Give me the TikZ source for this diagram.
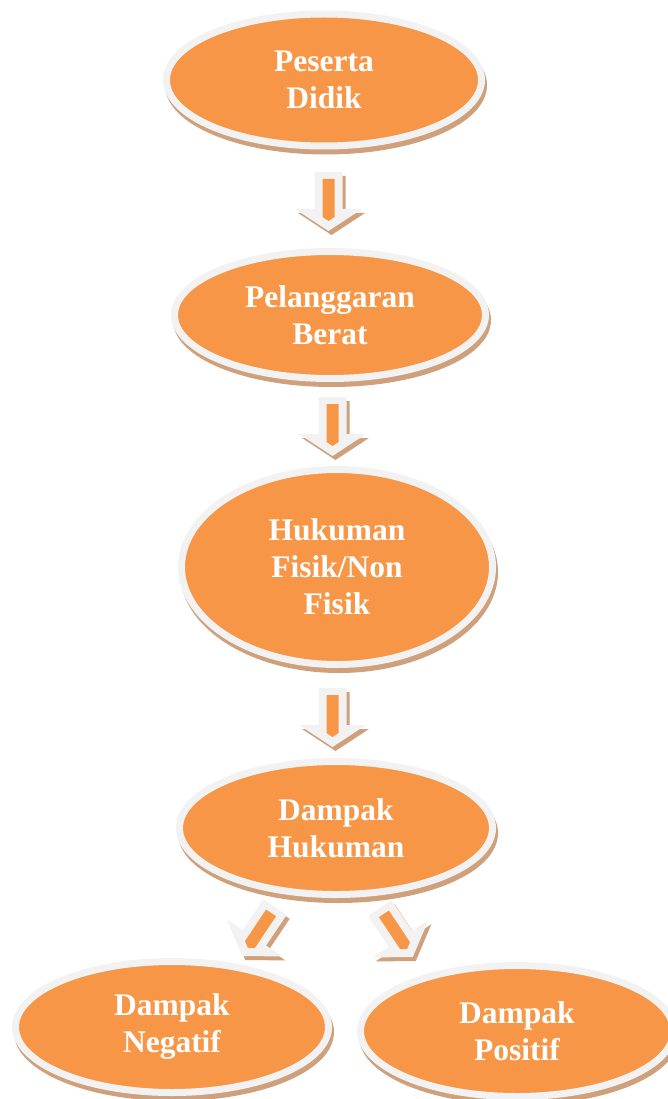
\documentclass[tikz,border=0pt]{standalone}
\usepackage{fontspec}
\setmainfont{Liberation Serif}
\usetikzlibrary{shapes.geometric,calc}
\definecolor{ringgray}{HTML}{F2F2F2}
\definecolor{boxorange}{HTML}{F79646}
\definecolor{shadowtan}{HTML}{CFA07C}
\tikzset{
  bubble/.style={ellipse, draw=ringgray, line width=7pt, fill=boxorange,
    inner sep=0pt, align=center, text=white,
    font=\fontsize{31.5}{37}\selectfont\bfseries,
    preaction={draw=shadowtan, fill=shadowtan, line width=7pt,
      transform canvas={xshift=2pt,yshift=-5pt}}},
  arrowshadow/.style={fill=shadowtan},
  arrowbody/.style={fill=ringgray},
  arrowstripe/.style={fill=boxorange}
}
\newcommand\blockarrow[3]{%
  \begin{scope}[shift={(#1+3,#2+4)},rotate=#3]
    \fill[arrowshadow] (-14,0) -- (14,0) -- (14,37) -- (33.5,37) -- (0,59) -- (-33.5,37) -- (-14,37) -- cycle;
  \end{scope}
  \begin{scope}[shift={(#1,#2)},rotate=#3]
    \fill[arrowbody] (-14,0) -- (14,0) -- (14,37) -- (33.5,37) -- (0,59) -- (-33.5,37) -- (-14,37) -- cycle;
    \fill[arrowstripe] (-6,7) -- (6,7) -- (6,45) -- (0,49) -- (-6,45) -- cycle;
  \end{scope}}
\begin{document}
\begin{tikzpicture}[x=1pt,y=-1pt]
\useasboundingbox (0,0) rectangle (668,1099);
\node[bubble, minimum width=315pt, minimum height=132pt] (p1) at (324,80) {Peserta\\Didik};
\node[bubble, minimum width=311pt, minimum height=127pt] (p2) at (330,315) {Pelanggaran\\Berat};
\node[bubble, minimum width=311pt, minimum height=195pt] (p3) at (337,567) {Hukuman\\Fisik/Non\\Fisik};
\node[bubble, minimum width=313pt, minimum height=133pt] (p4) at (336,828) {Dampak\\Hukuman};
\node[bubble, minimum width=313pt, minimum height=131pt] (p5) at (172,1027) {Dampak\\Negatif};
\node[bubble, minimum width=313pt, minimum height=131pt] (p6) at (517,1031) {Dampak\\Positif};
\blockarrow{328.5}{172}{0}
\blockarrow{332.5}{397}{0}
\blockarrow{332.5}{688}{0}
\blockarrow{275}{907}{-33.7}
\blockarrow{380}{908}{33.7}
\end{tikzpicture}
\end{document}
